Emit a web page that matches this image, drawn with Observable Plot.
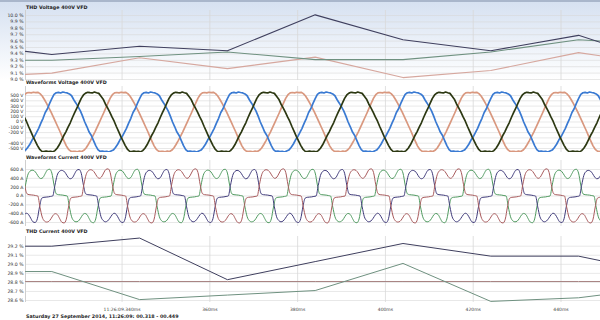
<!DOCTYPE html>
<html><head><meta charset="utf-8">
<script src="https://cdn.jsdelivr.net/npm/d3@7"></script>
<script src="https://cdn.jsdelivr.net/npm/@observablehq/plot@0.6"></script>
<style>
body{margin:0;background:#fff;}
#chart{position:relative;width:600px;height:320px;overflow:hidden;background:#fff;font-family:"DejaVu Sans",sans-serif;}
.panel{position:absolute;left:0;}
.bg{position:absolute;left:0;width:600px;}
.title{position:absolute;left:26px;font-weight:bold;font-size:4.8px;color:#1e1e1e;line-height:6px;white-space:nowrap;}
.caption{position:absolute;left:26px;top:314px;font-weight:bold;font-size:4.8px;color:#1e1e1e;line-height:6px;white-space:nowrap;}
</style></head><body><div id="chart"></div>
<script>
// ---- time axis (ms after 11:26:09) ----
const xDomain = [318, 449];
const xTicks = [340, 360, 380, 400, 420, 440];
const xTickLabels = ["11:26:09.340ms", "360ms", "380ms", "400ms", "420ms", "440ms"];

// ---- THD Voltage 400V VFD (%) ----
const thdTimes = [318, 324, 344, 364, 384, 404, 424, 444, 449];
const thdVoltageNavy  = [9.44, 9.39, 9.52, 9.45, 10.01, 9.62, 9.45, 9.69, 9.58];
const thdVoltageGreen = [9.30, 9.30, 9.36, 9.43, 9.31, 9.31, 9.43, 9.62, 9.60];
const thdVoltagePink  = [9.08, 9.10, 9.34, 9.17, 9.35, 9.03, 9.14, 9.42, 9.37];
const thdVoltageTicks = [9.0, 9.1, 9.2, 9.3, 9.4, 9.5, 9.6, 9.7, 9.8, 9.9, 10.0];

// ---- THD Current 400V VFD (%) ----
const thdCurrentNavy  = [29.20, 29.20, 29.29, 28.83, 29.03, 29.23, 29.09, 29.09, 29.04];
const thdCurrentGreen = [28.92, 28.92, 28.61, 28.66, 28.71, 29.01, 28.59, 28.63, 28.66];
const thdCurrentRed   = [28.81, 28.81, 28.81, 28.81, 28.81, 28.81, 28.81, 28.81, 28.81];
const thdCurrentTicks = [28.6, 28.7, 28.8, 28.9, 29.0, 29.1, 29.2];

// ---- Waveforms Voltage 400V VFD: one cycle per phase (V), 0.5 ms samples, from peak-10ms ----
const voltageStep = 0.5, period = 20;
const voltagePeakPink = 339.3, voltagePeakBlue = 326.0, voltagePeakDark = 332.7;
const voltageCyclePink = [-555,-562,-550,-558,-535,-490,-425,-350,-270,-190,-100,-10,80,170,265,360,450,515,548,556,
                          550,562,553,560,535,490,425,350,270,190,100,10,-80,-170,-265,-360,-450,-515,-548,-556];
const voltageCycleBlue = [-560,-552,-566,-548,-530,-480,-420,-340,-280,-200,-120,-20,70,180,250,350,440,520,552,560,
                          548,566,556,548,530,495,420,355,285,210,110,0,-90,-190,-255,-350,-445,-520,-555,-548];
const voltageCycleDark = [-548,-560,-555,-565,-540,-495,-430,-345,-260,-185,-95,-15,85,175,260,355,445,510,545,560,
                          553,548,565,552,540,485,430,340,265,185,95,15,-85,-175,-270,-355,-440,-510,-552,-560];
const voltageGrid = [-500,-400,-300,-200,-100,0,100,200,300,400,500];
const voltageTickLabels = [-500,-400,-200,-100,0,100,200,300,400,500];

// ---- Waveforms Current 400V VFD: one cycle per phase (A), 0.5 ms samples, from positive conduction start ----
const currentStep = 0.5;
const currentStartGreen = 317.5, currentStartPurple = 324.2, currentStartRed = 330.8;
const currentCycleGreen  = [0,250,470,560,585,570,510,430,395,420,510,590,605,520,250,50,30,25,20,10,
                            0,-250,-470,-560,-585,-570,-510,-430,-395,-420,-510,-590,-605,-520,-250,-50,-30,-25,-20,-10];
const currentCyclePurple = [0,240,465,555,580,565,505,425,390,415,505,585,600,515,245,50,30,25,20,10,
                            0,-245,-470,-555,-585,-565,-505,-430,-390,-420,-505,-585,-600,-515,-245,-50,-30,-25,-20,-10];
const currentCycleRed    = [0,260,480,570,595,580,520,440,400,430,520,600,615,530,255,55,30,25,20,10,
                            0,-255,-475,-565,-590,-575,-515,-435,-400,-425,-515,-595,-610,-525,-250,-50,-30,-25,-20,-10];
const currentTicks = [-600,-400,-200,0,200,400,600];

// repeat one measured cycle over the visible window
function repeatCycle(cycle, start, step) {
  const out = [];
  for (let k = -2; k <= 8; k++) {
    cycle.forEach((v, i) => {
      const t = start + k * period + i * step;
      if (t >= xDomain[0] - 1 && t <= xDomain[1] + 1) out.push({t, v});
    });
  }
  return out.sort((a, b) => a.t - b.t);
}
const zip = (ys) => thdTimes.map((t, i) => ({t, v: ys[i]}));

const chart = document.getElementById("chart");
function addDiv(cls, style, text) {
  const d = document.createElement("div");
  d.className = cls;
  Object.assign(d.style, style);
  if (text) d.textContent = text;
  chart.appendChild(d);
  return d;
}

// backgrounds
addDiv("bg", {top: "0px", height: "2px", background: "#a9b6cb"});
addDiv("bg", {top: "2px", height: "78px", background: "linear-gradient(#d6e1f1, #ffffff)"});

const gridColor = "#d8d8d8";
const common = (h, top, bottom, yDomain, yRange) => ({
  width: 600, height: h, marginLeft: 25, marginRight: 0, marginTop: top, marginBottom: bottom,
  x: {domain: xDomain, axis: null, label: null},
  y: {domain: yDomain, range: yRange, axis: null, label: null},
  style: {background: "transparent", overflow: "visible", fontFamily: "DejaVu Sans"}
});
function place(svg, top) {
  svg.classList.add("panel");
  svg.style.top = top + "px";
  chart.appendChild(svg);
}
const gridMarks = (yTicks) => [
  Plot.gridY(yTicks, {stroke: gridColor, strokeOpacity: 1, strokeWidth: 0.6}),
  Plot.gridX(xTicks, {stroke: gridColor, strokeOpacity: 1, strokeWidth: 0.8}),
  Plot.ruleX([xDomain[0]], {stroke: "#cfcfcf"})
];
const yAxis = (ticks, fmt) => Plot.axisY(ticks, {tickSize: 0, tickPadding: 2, fontSize: 4.6, fill: "#333", tickFormat: fmt, label: null});

// Panel 1: THD Voltage
place(Plot.plot({
  ...common(82, 10, 2, [9.0, 10.0], [79, 15]),
  marks: [
    ...gridMarks(thdVoltageTicks),
    yAxis(thdVoltageTicks, d => d.toFixed(1) + " %"),
    Plot.line(zip(thdVoltagePink), {x: "t", y: "v", stroke: "#d6a79e", strokeWidth: 1.1}),
    Plot.line(zip(thdVoltageGreen), {x: "t", y: "v", stroke: "#6f9180", strokeWidth: 1.1}),
    Plot.line(zip(thdVoltageNavy), {x: "t", y: "v", stroke: "#3f3f5e", strokeWidth: 1.1})
  ]
}), 0);
addDiv("title", {top: "5px"}, "THD Voltage 400V VFD");

// Panel 2: Waveforms Voltage
place(Plot.plot({
  ...common(74, 4, 4, [-500, 500], [66, 13]),
  marks: [
    ...gridMarks(voltageGrid),
    yAxis(voltageTickLabels, d => d + " V"),
    Plot.line(repeatCycle(voltageCyclePink, voltagePeakPink - 10, voltageStep), {x: "t", y: "v", stroke: "#d9987f", strokeWidth: 1.7, clip: true}),
    Plot.line(repeatCycle(voltageCycleBlue, voltagePeakBlue - 10, voltageStep), {x: "t", y: "v", stroke: "#3a7ad2", strokeWidth: 1.7, clip: true}),
    Plot.line(repeatCycle(voltageCycleDark, voltagePeakDark - 10, voltageStep), {x: "t", y: "v", stroke: "#2c3812", strokeWidth: 1.7, clip: true})
  ]
}), 82);
addDiv("title", {top: "80px"}, "Waveforms Voltage 400V VFD");

// Panel 3: Waveforms Current
place(Plot.plot({
  ...common(74, 4, 4, [-600, 600], [66, 13]),
  marks: [
    ...gridMarks(currentTicks),
    yAxis(currentTicks, d => d + " A"),
    Plot.line(repeatCycle(currentCycleGreen, currentStartGreen, currentStep), {x: "t", y: "v", stroke: "#4f9a5f", strokeWidth: 1, curve: "monotone-x", clip: true}),
    Plot.line(repeatCycle(currentCyclePurple, currentStartPurple, currentStep), {x: "t", y: "v", stroke: "#3f3a7a", strokeWidth: 1, curve: "monotone-x", clip: true}),
    Plot.line(repeatCycle(currentCycleRed, currentStartRed, currentStep), {x: "t", y: "v", stroke: "#a85a5c", strokeWidth: 1, curve: "monotone-x", clip: true})
  ]
}), 156);
addDiv("title", {top: "155px"}, "Waveforms Current 400V VFD");

// Panel 4: THD Current
place(Plot.plot({
  ...common(90, 6, 18, [28.6, 29.2], [70, 15.7]),
  marks: [
    ...gridMarks(thdCurrentTicks),
    yAxis(thdCurrentTicks, d => d.toFixed(1) + " %"),
    Plot.axisX(xTicks, {tickSize: 0, tickPadding: 5, fontSize: 4.5, fill: "#444", label: null, tickFormat: (d) => xTickLabels[xTicks.indexOf(d)]}),
    Plot.line(zip(thdCurrentRed), {x: "t", y: "v", stroke: "#a88483", strokeWidth: 1}),
    Plot.line(zip(thdCurrentGreen), {x: "t", y: "v", stroke: "#6f9180", strokeWidth: 1}),
    Plot.line(zip(thdCurrentNavy), {x: "t", y: "v", stroke: "#3f3f5e", strokeWidth: 1})
  ]
}), 230);
addDiv("title", {top: "229px"}, "THD Current 400V VFD");
addDiv("caption", {}, "Saturday 27 September 2014, 11:26:09: 00.318 - 00.449");
</script></body></html>
